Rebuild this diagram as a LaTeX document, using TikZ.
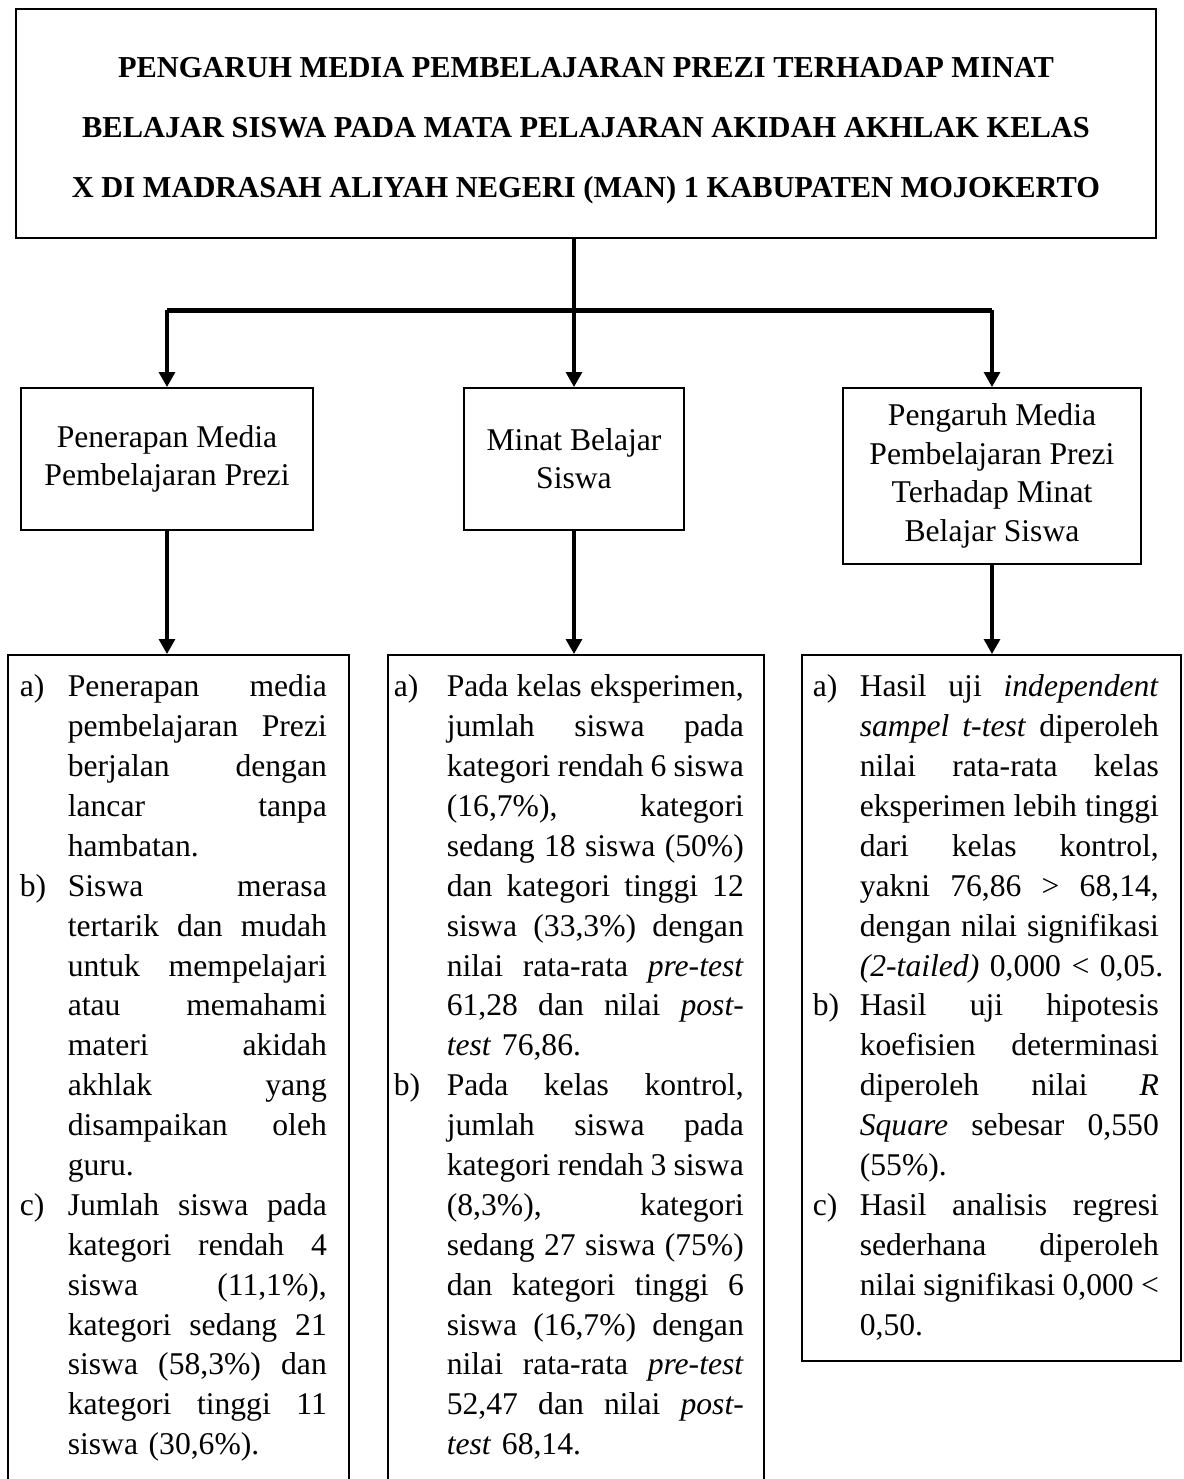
\documentclass[tikz,border=0pt]{standalone}
\usepackage{fontspec}
\setmainfont{Liberation Serif}
\usetikzlibrary{arrows.meta,positioning}
\def \barY {1.42cm}
\newlength\lpad
\newlength\lblw
\newlength\txtw
\newcommand{\jl}[1]{\makebox[\txtw][s]{\spaceskip=0.25em plus 8em minus 0.1em\strut #1}\\}
\newcommand{\akhir}[1]{\strut #1}
\newcommand{\butir}[2]{\noindent\hspace*{\lpad}\makebox[\lblw][l]{\strut #1}\parbox[t]{\txtw}{\baselineskip=22.7pt\lineskip=0pt #2}\par}
\tikzset{
 	titlebox/.style= {draw, rectangle, line width=1.3pt, align=center, minimum width=22.8cm, minimum height=4.58cm, font=\bfseries\fontsize{17.3}{34.1}\selectfont},
 	topbox/.style= {draw, rectangle, line width=0.95pt, align=center, inner sep=0pt, font=\fontsize{18}{21.9}\selectfont},
 	listbox/.style= {draw, rectangle, line width=0.95pt, anchor=north west, inner xsep=0pt, inner ysep=0.28cm, font=\fontsize{18}{22.7}\selectfont},
 	arrowline/.style= {line width=1.8pt, -{Triangle[length=0.3cm,width=0.32cm]}},
 	barline/.style= {line width=2.7pt}
 }
\begin{document}
\begin{tikzpicture}
\useasboundingbox (0,0) rectangle (23.66,-29.58);

%%%%%%%%%%%%%%%%%%%%% Nodes %%%%%%%%%%%%%%%%%%%%%
	\node [titlebox] (judul) at (11.72,-2.47) {\rule{0pt}{20pt}PENGARUH MEDIA PEMBELAJARAN PREZI TERHADAP MINAT\\ BELAJAR SISWA PADA MATA PELAJARAN AKIDAH AKHLAK KELAS\\ X DI MADRASAH ALIYAH NEGERI (MAN) 1 KABUPATEN MOJOKERTO};
	\node [topbox, anchor=north, minimum width=5.84cm, minimum height=2.84cm] (penerapan) at (3.34,-7.74) {Penerapan Media\\ Pembelajaran Prezi};
	\node [topbox, anchor=north, minimum width=4.4cm, minimum height=2.84cm] (minat) at (11.48,-7.74) {Minat Belajar\\ Siswa};
	\node [topbox, anchor=north, minimum width=5.96cm, minimum height=3.52cm] (pengaruh) at (19.84,-7.74) {Pengaruh Media\\ Pembelajaran Prezi\\ Terhadap Minat\\ Belajar Siswa};

	\node [listbox, text width=6.82cm] (hasil_penerapan) at (0.14,-13.08) {%
		\lineskip=0pt\setlength\lpad{0.24cm}\setlength\lblw{0.96cm}\setlength\txtw{5.18cm}%
		\butir{a)}{\jl{Penerapan media}\jl{pembelajaran Prezi}\jl{berjalan dengan}\jl{lancar tanpa}\akhir{hambatan.}}
		\butir{b)}{\jl{Siswa merasa}\jl{tertarik dan mudah}\jl{untuk mempelajari}\jl{atau memahami}\jl{materi akidah}\jl{akhlak yang}\jl{disampaikan oleh}\akhir{guru.}}
		\butir{c)}{\jl{Jumlah siswa pada}\jl{kategori rendah 4}\jl{siswa (11,1\%),}\jl{kategori sedang 21}\jl{siswa (58,3\%) dan}\jl{kategori tinggi 11}\akhir{siswa (30,6\%).}}
		\vspace*{0.4cm}};
	\node [listbox, text width=7.52cm] (hasil_minat) at (7.74,-13.08) {%
		\lineskip=0pt\setlength\lpad{0.12cm}\setlength\lblw{1.06cm}\setlength\txtw{5.94cm}%
		\butir{a)}{\jl{Pada kelas eksperimen,}\jl{jumlah siswa pada}\jl{kategori rendah 6 siswa}\jl{(16,7\%), kategori}\jl{sedang 18 siswa (50\%)}\jl{dan kategori tinggi 12}\jl{siswa (33,3\%) dengan}\jl{nilai rata-rata \textit{pre-test}}\jl{61,28 dan nilai \textit{post-}}\akhir{\textit{test} 76,86.}}
		\butir{b)}{\jl{Pada kelas kontrol,}\jl{jumlah siswa pada}\jl{kategori rendah 3 siswa}\jl{(8,3\%), kategori}\jl{sedang 27 siswa (75\%)}\jl{dan kategori tinggi 6}\jl{siswa (16,7\%) dengan}\jl{nilai rata-rata \textit{pre-test}}\jl{52,47 dan nilai \textit{post-}}\akhir{\textit{test} 68,14.}}
		\vspace*{0.4cm}};
	\node [listbox, text width=7.58cm] (hasil_pengaruh) at (16.02,-13.08) {%
		\lineskip=0pt\setlength\lpad{0.22cm}\setlength\lblw{0.94cm}\setlength\txtw{5.98cm}%
		\butir{a)}{\jl{Hasil uji \textit{independent}}\jl{\textit{sampel t-test} diperoleh}\jl{nilai rata-rata kelas}\jl{eksperimen lebih tinggi}\jl{dari kelas kontrol,}\jl{yakni 76,86 > 68,14,}\jl{dengan nilai signifikasi}\makebox[\txtw][l]{\strut\textit{(2-tailed)} 0,000 < 0,05.}}
		\butir{b)}{\jl{Hasil uji hipotesis}\jl{koefisien determinasi}\jl{diperoleh nilai \textit{R}}\jl{\textit{Square} sebesar 0,550}\akhir{(55\%).}}
		\butir{c)}{\jl{Hasil analisis regresi}\jl{sederhana diperoleh}\jl{nilai signifikasi 0,000 <}\akhir{0,50.}}};

%%%%%%%%%%%%%%%%%%%%% Arrows %%%%%%%%%%%%%%%%%%%%%
	\path (judul.south -| minat.north) ++(0,-\barY) coordinate (cabang);
	\draw [arrowline] (judul.south -| minat.north) -- (minat.north);
	\draw [barline] (penerapan.north |- cabang) -- (pengaruh.north |- cabang);
	\draw [arrowline] (penerapan.north |- cabang) -- (penerapan.north);
	\draw [arrowline] (pengaruh.north |- cabang) -- (pengaruh.north);
	\draw [arrowline] (penerapan.south) -- (penerapan.south |- hasil_penerapan.north);
	\draw [arrowline] (minat.south) -- (minat.south |- hasil_minat.north);
	\draw [arrowline] (pengaruh.south) -- (pengaruh.south |- hasil_pengaruh.north);

\end{tikzpicture}
\end{document}
